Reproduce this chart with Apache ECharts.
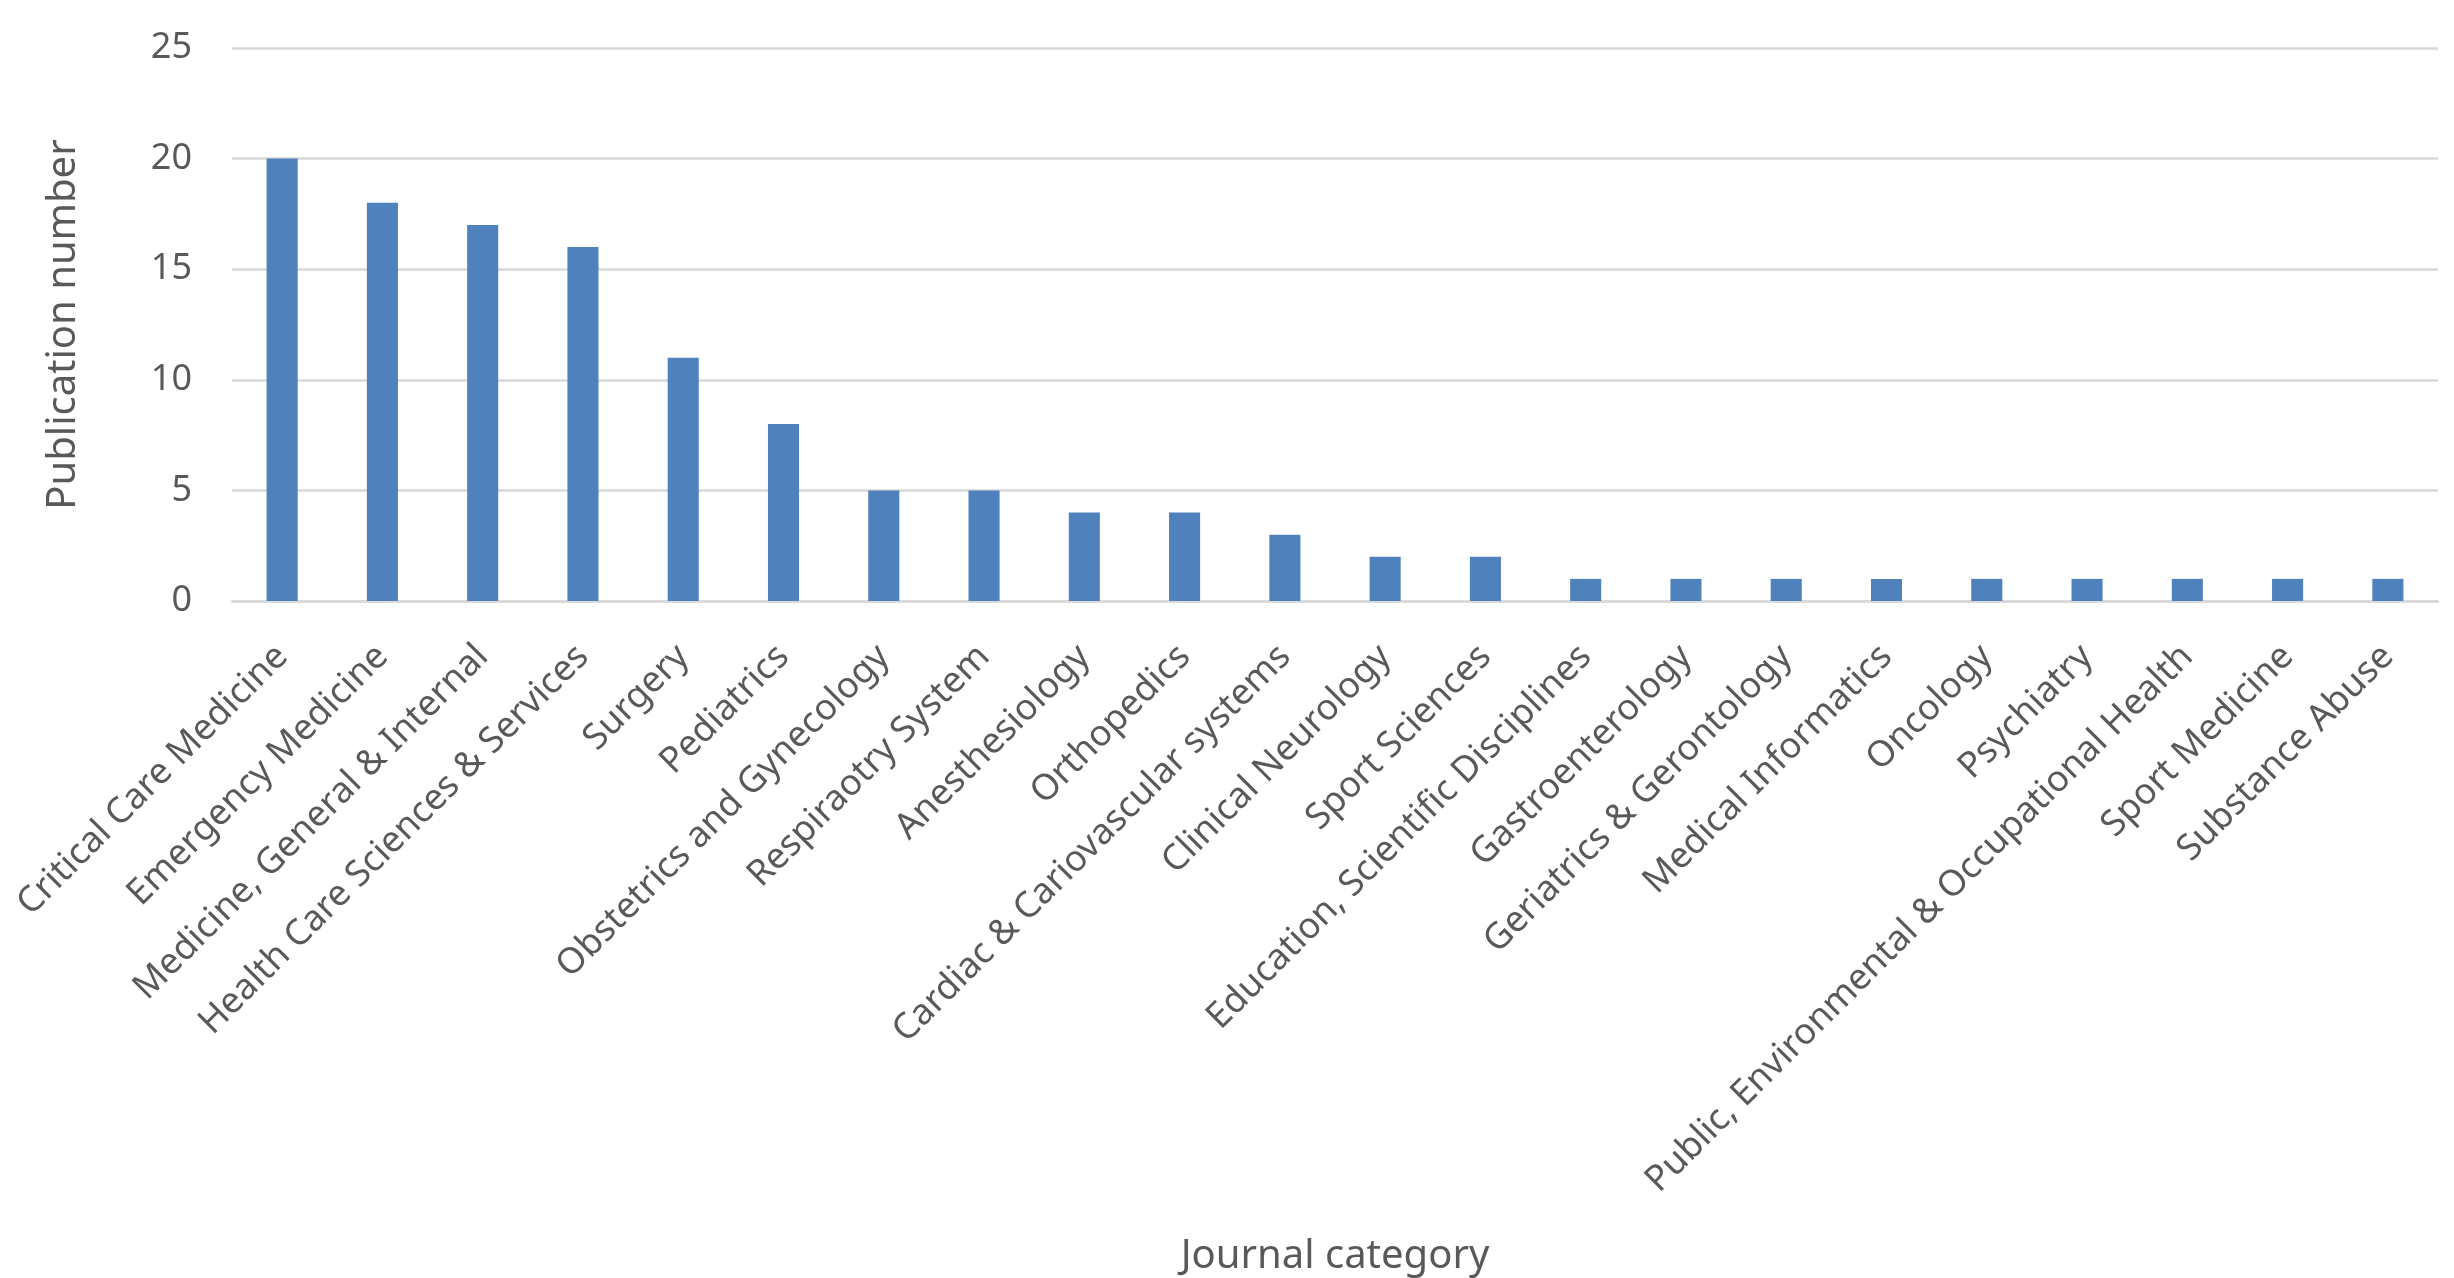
<!DOCTYPE html>
<html>
<head>
<meta charset="utf-8">
<script src="https://cdn.jsdelivr.net/npm/echarts@6/dist/echarts.min.js"></script>
<style>
  html, body { margin: 0; padding: 0; background: #fff; }
  #chart { width: 2454px; height: 1278px; }
</style>
</head>
<body>
<div id="chart"></div>
<script>
// 期刊类别与发文数量
var categories = [
    'Critical Care Medicine',
    'Emergency Medicine',
    'Medicine, General & Internal',
    'Health Care Sciences & Services',
    'Surgery',
    'Pediatrics',
    'Obstetrics and Gynecology',
    'Respiraotry System',
    'Anesthesiology',
    'Orthopedics',
    'Cardiac & Cariovascular systems',
    'Clinical Neurology',
    'Sport Sciences',
    'Education, Scientific Disciplines',
    'Gastroenterology',
    'Geriatrics & Gerontology',
    'Medical Informatics',
    'Oncology',
    'Psychiatry',
    'Public, Environmental & Occupational Health',
    'Sport Medicine',
    'Substance Abuse'
];
var publications = [20, 18, 17, 16, 11, 8, 5, 5, 4, 4, 3, 2, 2, 1, 1, 1, 1, 1, 1, 1, 1, 1];

var yMin = 0, yMax = 25, yStep = 5;

var textColor = '#595959';
var font = '"Noto Sans", "Open Sans", sans-serif';

var myChart = echarts.init(document.getElementById('chart'));

var option = {
    animation: false,
    grid: { left: 232, right: 16, top: 48, bottom: 671 },
    xAxis: {
        type: 'category',
        data: categories,
        name: 'Journal category',
        nameLocation: 'middle',
        nameGap: 636,
        nameTextStyle: { fontFamily: font, fontSize: 40, color: textColor },
        axisLine: { lineStyle: { color: '#D9D9D9', width: 2.5 } },
        axisTick: { show: false },
        axisLabel: {
            interval: 0,
            rotate: 45,
            margin: 50,
            fontFamily: font,
            fontSize: 36,
            color: textColor
        }
    },
    yAxis: {
        type: 'value',
        min: yMin,
        max: yMax,
        interval: yStep,
        name: 'Publication number',
        nameLocation: 'middle',
        nameGap: 148,
        nameTextStyle: { fontFamily: font, fontSize: 40, color: textColor },
        axisLine: { show: false },
        axisTick: { show: false },
        axisLabel: { margin: 40, fontFamily: font, fontSize: 36, color: textColor },
        splitLine: { lineStyle: { color: '#D9D9D9', width: 2.5 } }
    },
    series: [{
        type: 'bar',
        data: publications,
        barWidth: '31%',
        itemStyle: { color: '#4F81BD' }
    }]
};

myChart.setOption(option);
</script>
</body>
</html>
